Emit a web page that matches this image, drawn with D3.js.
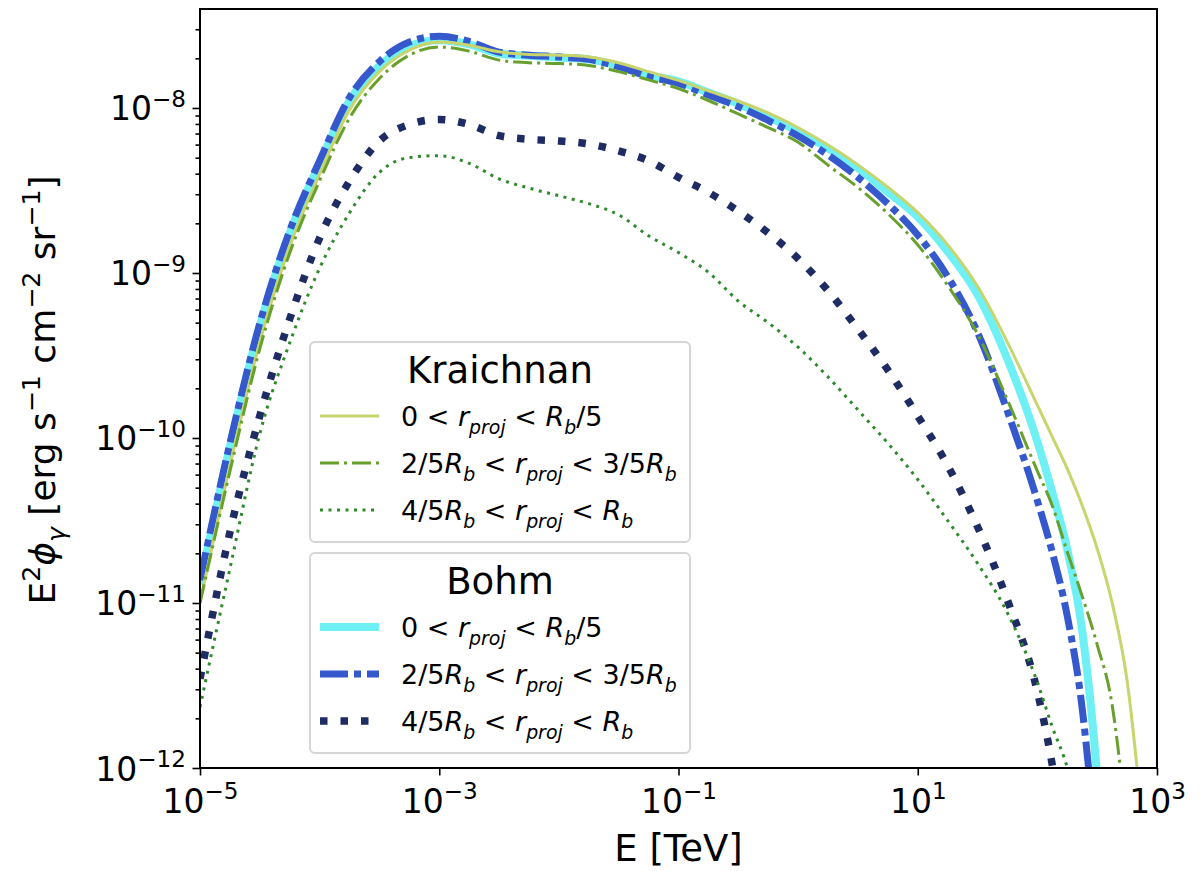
<!DOCTYPE html>
<html>
<head>
<meta charset="utf-8">
<script src="https://cdn.jsdelivr.net/npm/d3@7"></script>
<style>
  body { margin: 0; background: #fff; }
  svg, svg text { font-family: "DejaVu Sans", sans-serif; }
  text { white-space: pre; }
</style>
</head>
<body>
<div id="chart"></div>
<script>
// Energía [TeV] (malla común de todas las curvas)
const energy = [1e-5, 1.78e-5, 3.16e-5, 5.62e-5, 1e-4, 1.78e-4, 3.16e-4, 5.62e-4,
  1e-3, 1.78e-3, 3.16e-3, 5.62e-3, 1e-2, 1.78e-2, 3.16e-2, 5.62e-2,
  0.1, 0.178, 0.316, 0.562, 1, 1.78, 3.16, 5.62,
  10, 17.8, 31.6, 56.2, 100, 133, 178, 237, 316, 422, 562, 750];

// E^2 phi [erg s^-1 cm^-2 sr^-1], Kraichnan
const kraichnanInner = [1.0e-11, 6.8e-11, 3.8e-10, 1.45e-9, 3.98e-9, 9.77e-9, 1.66e-8, 2.24e-8,
  2.51e-8, 2.40e-8, 2.19e-8, 2.11e-8, 2.09e-8, 2.04e-8, 1.88e-8, 1.66e-8,
  1.47e-8, 1.27e-8, 1.10e-8, 9.33e-9, 7.59e-9, 5.96e-9, 4.52e-9, 3.31e-9,
  2.32e-9, 1.48e-9, 8.3e-10, 3.8e-10, 1.58e-10, 1.02e-10, 6.5e-11, 3.9e-11, 2.14e-11, 1.0e-11, 3.4e-12, 5e-13];
const kraichnanMiddle = [1.0e-11, 6.3e-11, 3.47e-10, 1.32e-9, 3.63e-9, 8.7e-9, 1.51e-8, 2.09e-8,
  2.34e-8, 2.21e-8, 1.95e-8, 1.88e-8, 1.86e-8, 1.81e-8, 1.66e-8, 1.48e-8,
  1.31e-8, 1.11e-8, 9.2e-9, 7.6e-9, 6.2e-9, 4.5e-9, 3.3e-9, 2.29e-9,
  1.48e-9, 8.4e-10, 4.27e-10, 1.7e-10, 6.3e-11, 3.9e-11, 2.04e-11, 1.1e-11, 5.6e-12, 2.4e-12, 4e-13, 3e-14];
const kraichnanOuter = [2.34e-12, 1.62e-11, 1.06e-10, 3.77e-10, 1.07e-9, 2.32e-9, 4.07e-9, 5.01e-9,
  5.14e-9, 4.62e-9, 3.72e-9, 3.27e-9, 2.94e-9, 2.63e-9, 2.25e-9, 1.68e-9,
  1.33e-9, 1.01e-9, 6.76e-10, 5.0e-10, 3.55e-10, 2.34e-10, 1.48e-10, 9.3e-11,
  5.6e-11, 3.16e-11, 1.74e-11, 8.7e-12, 3.3e-12, 1.78e-12, 1.0e-12, 4e-13, 8e-14, 5e-15, 1e-16, 1e-18];

// Bohm
const bohmInner = [1.29e-11, 8.9e-11, 4.79e-10, 1.74e-9, 4.62e-9, 1.11e-8, 1.8e-8, 2.37e-8,
  2.57e-8, 2.43e-8, 2.14e-8, 2.07e-8, 2.02e-8, 1.97e-8, 1.8e-8, 1.58e-8,
  1.45e-8, 1.24e-8, 1.06e-8, 8.8e-9, 7.24e-9, 5.69e-9, 4.32e-9, 3.09e-9,
  2.19e-9, 1.35e-9, 7.4e-10, 3.0e-10, 9.5e-11, 4.7e-11, 2.1e-11, 6.8e-12, 8.9e-13, 3e-14, 1e-15, 1e-17];
const bohmMiddle = [1.38e-11, 9.3e-11, 4.94e-10, 1.8e-9, 4.79e-9, 1.16e-8, 1.91e-8, 2.51e-8,
  2.72e-8, 2.53e-8, 2.18e-8, 2.09e-8, 2.04e-8, 1.97e-8, 1.78e-8, 1.55e-8,
  1.41e-8, 1.2e-8, 1.02e-8, 8.4e-9, 6.76e-9, 5.19e-9, 3.8e-9, 2.63e-9,
  1.7e-9, 9.5e-10, 4.37e-10, 1.45e-10, 4.17e-11, 2.04e-11, 8.3e-12, 2.29e-12, 2.5e-13, 1e-14, 1e-16, 1e-18];
const bohmOuter = [3.47e-12, 2.69e-11, 1.36e-10, 5.25e-10, 1.63e-9, 3.61e-9, 6.31e-9, 7.94e-9,
  8.53e-9, 7.94e-9, 6.79e-9, 6.46e-9, 6.31e-9, 6.05e-9, 5.5e-9, 4.79e-9,
  3.8e-9, 3.08e-9, 2.37e-9, 1.75e-9, 1.22e-9, 7.8e-10, 4.57e-10, 2.59e-10,
  1.36e-10, 6.8e-11, 2.9e-11, 1.04e-11, 2.9e-12, 1.05e-12, 2.5e-13, 3e-14, 1e-15, 1e-16, 1e-17, 1e-18];

// Ticks
const xTicks = [1e-5, 1e-3, 1e-1, 1e1, 1e3];
const xTickExp = ["−5", "−3", "−1", "1", "3"];
const yTicks = [1e-12, 1e-11, 1e-10, 1e-9, 1e-8];
const yTickExp = ["−12", "−11", "−10", "−9", "−8"];

// Etiquetas de leyenda (texto matemático por piezas)
const labelInner = [["0 < ", "n"], ["r", "i"], ["proj", "sub"], [" < ", "n"], ["R", "i"], ["b", "sub"], ["/5", "n"]];
const labelMiddle = [["2/5", "n"], ["R", "i"], ["b", "sub"], [" < ", "n"], ["r", "i"], ["proj", "sub"], [" < 3/5", "n"], ["R", "i"], ["b", "sub"]];
const labelOuter = [["4/5", "n"], ["R", "i"], ["b", "sub"], [" < ", "n"], ["r", "i"], ["proj", "sub"], [" < ", "n"], ["R", "i"], ["b", "sub"]];

// Estilos de cada curva
const series = [
  { values: bohmInner, color: "#6ef0f4", width: 8, dash: null, label: labelInner },
  { values: bohmMiddle, color: "#3558cc", width: 7, dash: "28,6,7,6", label: labelMiddle },
  { values: bohmOuter, color: "#1e2c63", width: 7.5, dash: "7.5,13", label: labelOuter },
  { values: kraichnanInner, color: "#c8d46c", width: 3, dash: null, label: labelInner },
  { values: kraichnanMiddle, color: "#68a02e", width: 3, dash: "19,5,3,5", label: labelMiddle },
  { values: kraichnanOuter, color: "#2e8b2b", width: 3, dash: "3,5.5", label: labelOuter }
];

const FONT = "DejaVu Sans";
const margin = { top: 9, right: 43, bottom: 103, left: 200 };
const width = 1200 - margin.left - margin.right;
const height = 871 - margin.top - margin.bottom;

const svg = d3.select("#chart")
  .append("svg")
  .attr("width", 1200)
  .attr("height", 871)
  .attr("font-family", FONT);

const g = svg.append("g")
  .attr("transform", `translate(${margin.left},${margin.top})`);

const xScale = d3.scaleLog().domain([1e-5, 1e3]).range([0, width]);
const yScale = d3.scaleLog().domain([1e-12, 3.98e-8]).range([height, 0]);

// Texto con subíndices / superíndices
function mathText(sel, parts, size) {
  let shift = 0;
  parts.forEach(([str, kind]) => {
    const t = sel.append("tspan").text(str);
    let target = 0;
    if (kind === "sub") target = size * 0.28;
    if (kind === "sup") target = -size * 0.42;
    t.attr("dy", target - shift);
    shift = target;
    if (kind === "sub" || kind === "sup") t.attr("font-size", size * 0.7);
    if (kind === "i" || kind === "sub") t.attr("font-style", "italic");
  });
}

g.append("clipPath").attr("id", "clip")
  .append("rect").attr("width", width).attr("height", height);

const line = d3.line()
  .x((d, i) => xScale(energy[i]))
  .y(d => yScale(d))
  .curve(d3.curveMonotoneX);

const curves = g.append("g").attr("clip-path", "url(#clip)");
series.forEach(s => {
  curves.append("path")
    .datum(s.values)
    .attr("fill", "none")
    .attr("stroke", s.color)
    .attr("stroke-width", s.width)
    .attr("stroke-dasharray", s.dash)
    .attr("d", line);
});

// Ejes
const xAxis = g.append("g")
  .attr("transform", `translate(0,${height})`)
  .call(d3.axisBottom(xScale).tickValues(xTicks).tickSize(7.5).tickFormat(() => ""));

xAxis.selectAll(".tick").each(function (d, i) {
  const t = d3.select(this).append("text")
    .attr("y", 45).attr("fill", "#000")
    .attr("font-family", FONT)
    .attr("font-size", 33).attr("text-anchor", "middle");
  mathText(t, [["10", "n"], [xTickExp[i], "sup"]], 33);
});

const minorY = [];
for (let e = -12; e <= -8; e++) {
  for (let m = 2; m <= 9; m++) {
    const v = m * Math.pow(10, e);
    if (v <= 3.98e-8) minorY.push(v);
  }
}

g.append("g")
  .call(d3.axisLeft(yScale).tickValues(minorY).tickSize(4.5).tickFormat(() => ""));

const yAxis = g.append("g")
  .call(d3.axisLeft(yScale).tickValues(yTicks).tickSize(7.5).tickFormat(() => ""));

yAxis.selectAll(".tick").each(function (d, i) {
  const t = d3.select(this).append("text")
    .attr("x", -14).attr("y", 12).attr("fill", "#000")
    .attr("font-family", FONT)
    .attr("font-size", 33).attr("text-anchor", "end");
  mathText(t, [["10", "n"], [yTickExp[i], "sup"]], 33);
});

g.selectAll(".domain").remove();
g.selectAll(".tick line").attr("stroke", "#000").attr("stroke-width", 1.6);

g.append("rect")
  .attr("width", width).attr("height", height)
  .attr("fill", "none").attr("stroke", "#000").attr("stroke-width", 2);

// Títulos de ejes
svg.append("text")
  .attr("x", margin.left + width / 2).attr("y", 861)
  .attr("text-anchor", "middle").attr("font-size", 37)
  .text("E [TeV]");

const yLabel = svg.append("text")
  .attr("transform", "translate(55,390) rotate(-90)")
  .attr("text-anchor", "middle").attr("font-size", 36);
mathText(yLabel, [["E", "n"], ["2", "sup"], ["ϕ", "i"], ["γ", "sub"], [" [erg s", "n"], ["−1", "sup"],
  [" cm", "n"], ["−2", "sup"], [" sr", "n"], ["−1", "sup"], ["]", "n"]], 36);

// Leyendas
function drawLegend(top, title, items) {
  const lg = svg.append("g").attr("transform", `translate(310,${top})`);
  lg.append("rect")
    .attr("width", 380).attr("height", 200).attr("rx", 5)
    .attr("fill", "#fff").attr("fill-opacity", 0.8)
    .attr("stroke", "#d6d6d6").attr("stroke-width", 2);
  lg.append("text")
    .attr("x", 190).attr("y", 41).attr("text-anchor", "middle")
    .attr("font-size", 37).text(title);
  items.forEach((s, i) => {
    const yy = 74 + i * 47;
    lg.append("line")
      .attr("x1", 10).attr("x2", 69).attr("y1", yy).attr("y2", yy)
      .attr("stroke", s.color).attr("stroke-width", s.width)
      .attr("stroke-dasharray", s.dash);
    const t = lg.append("text")
      .attr("x", 91).attr("y", yy + 10).attr("font-size", 27);
    mathText(t, s.label, 27);
  });
}

drawLegend(342, "Kraichnan", series.slice(3));
drawLegend(553, "Bohm", series.slice(0, 3));
</script>
</body>
</html>
